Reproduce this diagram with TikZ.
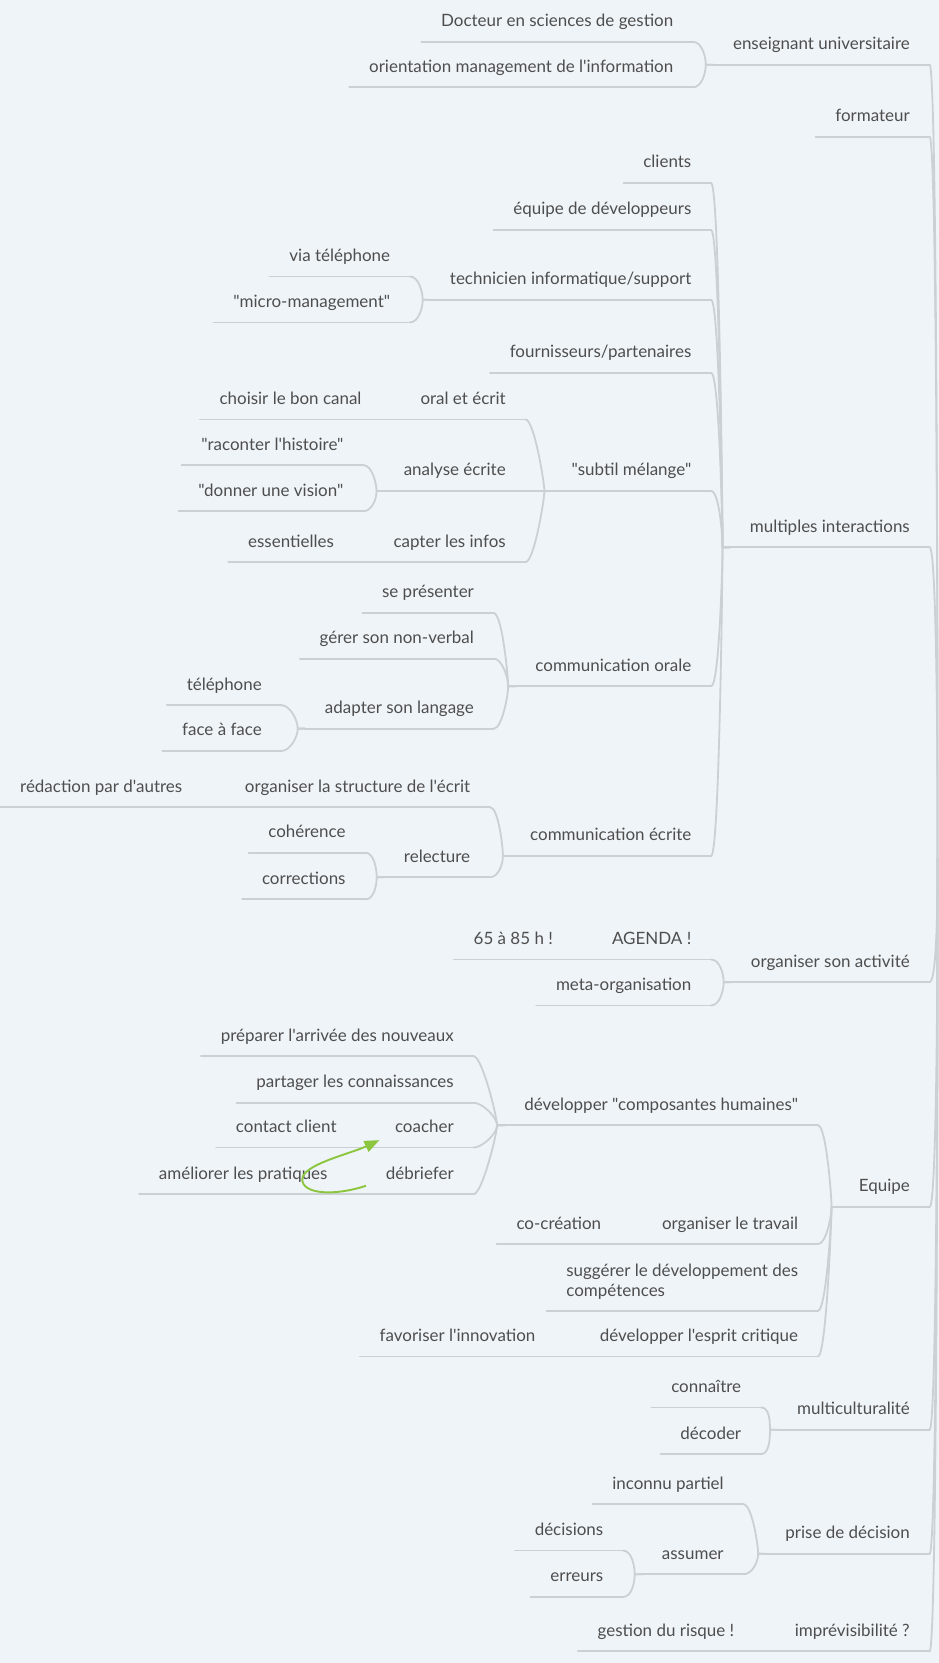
\documentclass[tikz,border=0pt]{standalone}
\usepackage{fontspec}
\setmainfont{Lato}[Ligatures=TeXOff]
\usetikzlibrary{calc,arrows.meta}

\definecolor{bg}{HTML}{EFF4F8}
\definecolor{branch}{HTML}{CBD0D4}
\definecolor{ink}{HTML}{4E4E4E}
\definecolor{relgreen}{HTML}{8CC63F}

\tikzset{
  topic/.style={anchor=south east, inner xsep=18.5pt, inner ysep=0pt,
    minimum height=40pt, text height=13.5pt, text depth=1.5pt,
    font=\fontsize{16}{19}\selectfont, text=ink},
  conn/.style={draw=branch, line width=1.7pt, line cap=round, line join=round},
  relarrow/.style={draw=relgreen, line width=1.8pt,
    -{Triangle[length=14pt,width=11pt]}},
}

% a topic: text above its own underline, placed by the underline's right end
\newcommand\mmtopic[5][]{%
  \node[topic,#1] (#2) at (#3,#4) {#5};
  \draw[conn] (#2.south west) -- (#2.south east);}
% curved branch from a child's underline to its parent's junction
\newcommand\mmlink[2]{%
  \path (#2.south west) ++(-7,0) coordinate (J);
  \draw[conn] (#1.south east) .. controls +(8,0) and ($(J)!8pt!(J |- #1.south east)$) .. (J) -- (#2.south west);}
% a child on the same line as its parent
\newcommand\mmjoin[2]{\draw[conn] (#1.south east) -- (#2.south west);}
% branch to the central topic beyond the right edge
\newcommand\mmroot[1]{%
  \draw[conn] (#1.south east) .. controls +(8,0) and ($(R)!8pt!(R |- #1.south east)$) .. (R);}

\begin{document}
\begin{tikzpicture}[x=1pt,y=-1pt]
\fill[bg] (0,0) rectangle (885,1568);
\useasboundingbox (0,0) rectangle (885,1568);
\coordinate (R) at (884,810);

% main branches
\mmtopic{eu}{876.5}{61}{enseignant universitaire}
\mmtopic{fo}{876.5}{129}{formateur}
\mmtopic{mi}{876.5}{516}{multiples interactions}
\mmtopic{oa}{876.5}{926}{organiser son activité}
\mmtopic{eq}{876.5}{1138}{Equipe}
\mmtopic{mc}{876.5}{1348}{multiculturalité}
\mmtopic{pd}{876.5}{1465}{prise de décision}
\mmtopic{im}{876.5}{1557}{imprévisibilité ?}

% enseignant universitaire
\mmtopic{doc}{653.5}{39.5}{Docteur en sciences de gestion}
\mmtopic{ori}{653.5}{82.3}{orientation management de l'information}

% multiples interactions
\mmtopic{cli}{670.5}{172.6}{clients}
\mmtopic{edd}{670.5}{216.8}{équipe de développeurs}
\mmtopic{tec}{670.5}{282.7}{technicien informatique/support}
\mmtopic{via}{386.5}{260.7}{via téléphone}
\mmtopic{mm}{386.5}{304}{"micro-management"}
\mmtopic{fou}{670.5}{351.4}{fournisseurs/partenaires}
\mmtopic{sub}{670.5}{463}{"subtil mélange"}
\mmtopic{oe}{495.5}{395.5}{oral et écrit}
\mmtopic{cbc}{359.5}{395.5}{choisir le bon canal}
\mmtopic{ae}{495.5}{463}{analyse écrite}
\mmtopic{rh}{342.5}{438.5}{"raconter l'histoire"}
\mmtopic{dv}{342.5}{482}{"donner une vision"}
\mmtopic{ci}{495.5}{530}{capter les infos}
\mmtopic{ess}{333.5}{530}{essentielles}
\mmtopic{co}{670.5}{647}{communication orale}
\mmtopic{sp}{465.5}{578}{se présenter}
\mmtopic{gnv}{465.5}{621}{gérer son non-verbal}
\mmtopic{asl}{465.5}{687}{adapter son langage}
\mmtopic{tel}{265.5}{665}{téléphone}
\mmtopic{faf}{265.5}{708}{face à face}
\mmtopic{ce}{670.5}{807}{communication écrite}
\mmtopic{ose}{462}{761}{organiser la structure de l'écrit}
\mmtopic{rpa}{190.5}{761}{rédaction par d'autres}
\mmtopic{rel}{462}{827}{relecture}
\mmtopic{coh}{344.5}{804}{cohérence}
\mmtopic{cor}{344.5}{848}{corrections}

% organiser son activité
\mmtopic{ag}{670.5}{904.7}{AGENDA !}
\mmtopic{hrs}{540}{904.7}{65 à 85 h !}
\mmtopic{meta}{670.5}{948}{meta-organisation}

% Equipe
\mmtopic{dch}{771.2}{1061}{développer "composantes humaines"}
\mmtopic{pan}{446.5}{995.8}{préparer l'arrivée des nouveaux}
\mmtopic{plc}{446.5}{1039.7}{partager les connaissances}
\mmtopic{coa}{446.5}{1082}{coacher}
\mmtopic{cc}{336}{1082}{contact client}
\mmtopic{deb}{446.5}{1126}{débriefer}
\mmtopic{alp}{327.5}{1126}{améliorer les pratiques}
\mmtopic{olt}{771.2}{1173}{organiser le travail}
\mmtopic{ccr}{585.5}{1173}{co-création}
\mmtopic[align=left,text height=,text depth=,minimum height=55pt]{sug}{771.2}{1236}{suggérer le développement des\\compétences}
\mmtopic{dec}{771.2}{1279}{développer l'esprit critique}
\mmtopic{fi}{523.5}{1279}{favoriser l'innovation}

% multiculturalité
\mmtopic{con}{717.5}{1327}{connaître}
\mmtopic{dcd}{717.5}{1371}{décoder}

% prise de décision
\mmtopic{ip}{701}{1418.4}{inconnu partiel}
\mmtopic{ass}{701}{1484.3}{assumer}
\mmtopic{dci}{587.5}{1462}{décisions}
\mmtopic{err}{587.5}{1505.7}{erreurs}

% imprévisibilité
\mmtopic{gdr}{711}{1557}{gestion du risque !}

% branches to the central topic
\foreach \t in {eu,fo,mi,oa,eq,mc,pd,im} {\mmroot{\t}}

% sub-branches
\mmlink{doc}{eu} \mmlink{ori}{eu}
\mmlink{cli}{mi} \mmlink{edd}{mi} \mmlink{tec}{mi} \mmlink{fou}{mi}
\mmlink{sub}{mi} \mmlink{co}{mi} \mmlink{ce}{mi}
\mmlink{via}{tec} \mmlink{mm}{tec}
\mmlink{oe}{sub} \mmjoin{ae}{sub} \mmlink{ci}{sub}
\mmjoin{cbc}{oe}
\mmlink{rh}{ae} \mmlink{dv}{ae}
\mmjoin{ess}{ci}
\mmlink{sp}{co} \mmlink{gnv}{co} \mmlink{asl}{co}
\mmlink{tel}{asl} \mmlink{faf}{asl}
\mmlink{ose}{ce} \mmlink{rel}{ce}
\mmjoin{rpa}{ose}
\mmlink{coh}{rel} \mmlink{cor}{rel}
\mmlink{ag}{oa} \mmlink{meta}{oa}
\mmjoin{hrs}{ag}
\mmlink{dch}{eq} \mmlink{olt}{eq} \mmlink{sug}{eq} \mmlink{dec}{eq}
\mmlink{pan}{dch} \mmlink{plc}{dch} \mmlink{coa}{dch} \mmlink{deb}{dch}
\mmjoin{cc}{coa} \mmjoin{alp}{deb}
\mmjoin{ccr}{olt} \mmjoin{fi}{dec}
\mmlink{con}{mc} \mmlink{dcd}{mc}
\mmlink{ip}{pd} \mmlink{ass}{pd}
\mmlink{dci}{ass} \mmlink{err}{ass}
\mmjoin{gdr}{im}

% relation from débriefer back to coacher
\draw[relarrow] ([yshift=8pt]deb.south west)
  .. controls +(-30,10) and (285,1126) .. (285,1112)
  .. controls (285,1098) and (330,1088) .. ([shift={(4,-7)}]coa.south west);
\end{tikzpicture}
\end{document}
